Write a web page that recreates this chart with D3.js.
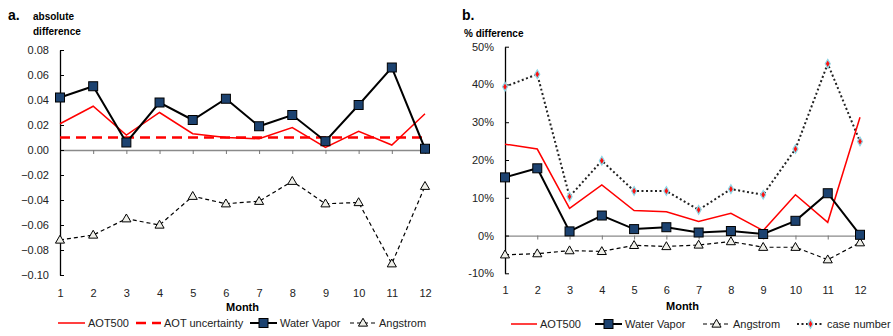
<!DOCTYPE html>
<html>
<head>
<meta charset="utf-8">
<script src="https://cdn.jsdelivr.net/npm/d3@7"></script>
<style>
  body { margin: 0; background: #fff; }
  svg { font-family: "Liberation Sans", Arial, sans-serif; }
  .tick text { font-size: 11px; fill: #222; }
</style>
</head>
<body>
<div class="chart"></div>
<script>
// months on the x axis
const months = [1, 2, 3, 4, 5, 6, 7, 8, 9, 10, 11, 12]

// panel a: absolute difference
const aot500Abs = [0.021, 0.035, 0.012, 0.030, 0.013, 0.010, 0.009, 0.018, 0.002, 0.015, 0.004, 0.029]
const aotUncertainty = [0.01, 0.01, 0.01, 0.01, 0.01, 0.01, 0.01, 0.01, 0.01, 0.01, 0.01, 0.01]
const waterVaporAbs = [0.042, 0.051, 0.006, 0.038, 0.024, 0.041, 0.019, 0.028, 0.007, 0.036, 0.066, 0.001]
const angstromAbs = [-0.072, -0.068, -0.055, -0.060, -0.037, -0.043, -0.041, -0.025, -0.043, -0.042, -0.091, -0.029]
const ticksA = [-0.10, -0.08, -0.06, -0.04, -0.02, 0, 0.02, 0.04, 0.06, 0.08]

// panel b: % difference
const aot500Pct = [24.2, 22.9, 7.2, 13.4, 6.6, 6.3, 3.7, 5.9, 1.3, 10.8, 3.5, 31.3]
const waterVaporPct = [15.4, 17.8, 1.1, 5.3, 1.7, 2.2, 0.8, 1.2, 0.4, 3.9, 11.2, 0.2]
const angstromPct = [-5.1, -4.8, -4.0, -4.2, -2.6, -2.9, -2.5, -1.6, -3.1, -3.1, -6.4, -1.9]
const caseNumberPct = [39.4, 42.7, 10.3, 19.8, 11.8, 11.8, 6.8, 12.3, 10.8, 22.9, 45.5, 24.9]
const ticksB = [-10, 0, 10, 20, 30, 40, 50]

const svg = d3.select(".chart").append("svg")
    .attr("width", 893)
    .attr("height", 336)

// line styles shared by both panels
const styles = {
    aot500: {color: "#ff0000", width: 1.5, dash: null, marker: null},
    uncertainty: {color: "#ff0000", width: 2.5, dash: "10,6", marker: null},
    vapor: {color: "#000", width: 2, dash: null, marker: "square"},
    angstrom: {color: "#000", width: 1.2, dash: "4,3", marker: "triangle"},
    cases: {color: "#222", width: 2, dash: "2,2.5", marker: "diamond"}
}

function drawMarker(g, kind, cx, cy) {
    if (kind === "square") {
        g.append("rect")
            .attr("x", cx - 4.5).attr("y", cy - 4.5)
            .attr("width", 9).attr("height", 9)
            .attr("fill", "#1c4270").attr("stroke", "#000").attr("stroke-width", 1)
    } else if (kind === "triangle") {
        g.append("path")
            .attr("d", d3.symbol(d3.symbolTriangle, 36)())
            .attr("transform", "translate(" + cx + "," + (cy + 0.5) + ")")
            .attr("fill", "#efefe9").attr("stroke", "#000").attr("stroke-width", 1)
    } else if (kind === "diamond") {
        g.append("path")
            .attr("d", d3.symbol(d3.symbolDiamond, 22)())
            .attr("transform", "translate(" + cx + "," + cy + ")")
            .attr("fill", "#ff1010").attr("stroke", "#8fd8e8").attr("stroke-width", 1.2)
    }
}

function drawPanel(p) {
    const x = d3.scaleLinear().domain([1, 12]).range([p.x0, p.x1])
    const y = d3.scaleLinear().domain(p.yDomain).range([p.yBottom, p.yTop])

    // x axis line through zero with month ticks pointing down
    svg.append("g")
        .attr("transform", "translate(0," + y(0) + ")")
        .call(d3.axisBottom(x).tickValues(months).tickSize(4).tickFormat("").tickSizeOuter(0))
        .call(g => g.select(".domain").attr("stroke", "#8a8a8a").attr("stroke-width", 1.3))
        .call(g => g.selectAll(".tick line").attr("stroke", "#777"))

    // month labels at the bottom
    svg.append("g")
        .attr("transform", "translate(0," + p.labelY + ")")
        .call(d3.axisBottom(x).tickValues(months).tickSize(0).tickFormat(d3.format("d")))
        .call(g => g.select(".domain").remove())

    // y axis with inner ticks
    svg.append("g")
        .attr("transform", "translate(" + p.x0 + ",0)")
        .call(d3.axisLeft(y).tickValues(p.ticks).tickSize(0).tickPadding(11).tickFormat(p.fmt))
        .call(g => g.select(".domain").attr("stroke", "#000").attr("stroke-width", 1.3))
        .call(g => g.selectAll(".tick").append("line")
            .attr("x1", 0).attr("x2", 4).attr("stroke", "#000"))

    const line = d3.line().x((d, i) => x(months[i])).y(d => y(d))

    p.series.forEach(s => {
        const st = styles[s.key]
        svg.append("path")
            .datum(s.values)
            .attr("fill", "none")
            .attr("stroke", st.color)
            .attr("stroke-width", st.width)
            .attr("stroke-dasharray", st.dash)
            .attr("d", line)
        if (st.marker) {
            const mg = svg.append("g")
            s.values.forEach((v, i) => drawMarker(mg, st.marker, x(months[i]), y(v)))
        }
    })

    // titles
    svg.append("text")
        .attr("x", p.letterX).attr("y", 20)
        .style("font-size", "14px").style("font-weight", "bold")
        .text(p.letter)
    p.yTitle.forEach((t, i) => {
        svg.append("text")
            .attr("x", p.titleX).attr("y", p.titleY + i * 15)
            .style("font-size", "10px").style("font-weight", "bold")
            .text(t)
    })
    svg.append("text")
        .attr("x", (p.x0 + p.x1) / 2).attr("y", p.monthY)
        .attr("text-anchor", "middle")
        .style("font-size", "11px").style("font-weight", "bold")
        .text("Month")

    // legend, each entry at its own x
    p.legend.forEach(item => {
        const st = styles[item.key]
        const g = svg.append("g")
        g.append("line")
            .attr("x1", item.x).attr("x2", item.x + item.len)
            .attr("y1", p.legendY).attr("y2", p.legendY)
            .attr("stroke", st.color).attr("stroke-width", st.width)
            .attr("stroke-dasharray", st.dash)
        if (st.marker) drawMarker(g, st.marker, item.x + item.len / 2, p.legendY)
        g.append("text")
            .attr("x", item.x + item.len + 3).attr("y", p.legendY + 4)
            .style("font-size", "11px").style("fill", "#222")
            .text(item.label)
    })
}

drawPanel({
    x0: 60, x1: 425, yTop: 50, yBottom: 275, yDomain: [-0.1, 0.08],
    ticks: ticksA, fmt: d3.format(".2f"), labelY: 286, monthY: 311,
    letter: "a.", letterX: 8, yTitle: ["absolute", "difference"], titleX: 33, titleY: 20,
    series: [
        {key: "uncertainty", values: aotUncertainty},
        {key: "aot500", values: aot500Abs},
        {key: "angstrom", values: angstromAbs},
        {key: "vapor", values: waterVaporAbs}
    ],
    legendY: 323,
    legend: [
        {key: "aot500", label: "AOT500", x: 58, len: 27},
        {key: "uncertainty", label: "AOT uncertainty", x: 136, len: 25},
        {key: "vapor", label: "Water Vapor", x: 250, len: 27},
        {key: "angstrom", label: "Angstrom", x: 350, len: 26}
    ]
})

drawPanel({
    x0: 505, x1: 860, yTop: 46.7, yBottom: 273.3, yDomain: [-10, 50],
    ticks: ticksB, fmt: d => d + "%", labelY: 283, monthY: 310,
    letter: "b.", letterX: 462, yTitle: ["% difference"], titleX: 464, titleY: 37,
    series: [
        {key: "cases", values: caseNumberPct},
        {key: "aot500", values: aot500Pct},
        {key: "angstrom", values: angstromPct},
        {key: "vapor", values: waterVaporPct}
    ],
    legendY: 324,
    legend: [
        {key: "aot500", label: "AOT500", x: 511, len: 26},
        {key: "vapor", label: "Water Vapor", x: 595, len: 27},
        {key: "angstrom", label: "Angstrom", x: 703, len: 27},
        {key: "cases", label: "case number", x: 797, len: 27}
    ]
})
</script>
</body>
</html>
